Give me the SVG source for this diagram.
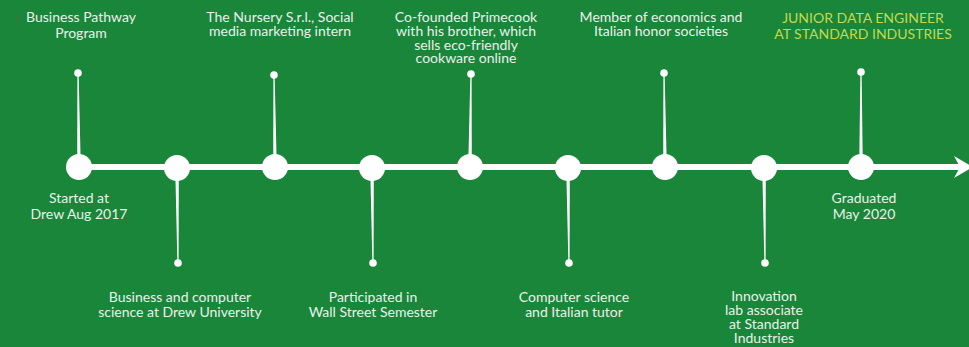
<svg xmlns="http://www.w3.org/2000/svg" width="969" height="347" viewBox="0 0 969 347">
<style>
  .lbl { font-family: "Lato", "Liberation Sans", sans-serif; font-size: 14px; fill: #e9f1ea; text-anchor: middle; }
  .hl { font-family: "Lato", "Liberation Sans", sans-serif; font-size: 14px; fill: #c6d84c; text-anchor: middle; }
  .wh { fill: #ffffff; }
</style>
<rect x="0" y="0" width="969" height="347" fill="#19863a"/>
<g id="connectors">
  <rect class="wh" x="79" y="164" width="884" height="6"/>
  <polygon class="wh" points="954,156 973,167 954,178 960,167"/>
  <polygon class="wh" points="77.2,167 80.8,167 78.6,73 77.4,73"/>
  <polygon class="wh" points="175.2,167 178.8,167 178.6,263 177.4,263"/>
  <polygon class="wh" points="273.2,167 276.8,167 274.6,75 273.4,75"/>
  <polygon class="wh" points="370.2,167 373.8,167 373.6,263 372.4,263"/>
  <polygon class="wh" points="468.2,167 471.8,167 471.6,74 470.4,74"/>
  <polygon class="wh" points="566.2,167 569.8,167 569.6,263 568.4,263"/>
  <polygon class="wh" points="663.2,167 666.8,167 664.6,73 663.4,73"/>
  <polygon class="wh" points="762.2,167 765.8,167 765.6,263 764.4,263"/>
  <polygon class="wh" points="859.2,167 862.8,167 861.6,72 860.4,72"/>
</g>
<g id="n1">
  <circle class="wh" cx="79" cy="167" r="13"/>
  <circle class="wh" cx="78" cy="73" r="3.8"/>
  <text class="lbl" x="81" y="22">Business Pathway</text>
  <text class="lbl" x="81" y="38">Program</text>
  <text class="lbl" x="79" y="203">Started at</text>
  <text class="lbl" x="79" y="219">Drew Aug 2017</text>
</g>
<g id="n2">
  <circle class="wh" cx="177" cy="168" r="13"/>
  <circle class="wh" cx="178" cy="263" r="3.8"/>
  <text class="lbl" x="180" y="302">Business and computer</text>
  <text class="lbl" x="180" y="317">science at Drew University</text>
</g>
<g id="n3">
  <circle class="wh" cx="275" cy="167" r="13"/>
  <circle class="wh" cx="274" cy="75" r="3.8"/>
  <text class="lbl" x="280" y="22">The Nursery S.r.l., Social</text>
  <text class="lbl" x="280" y="36">media marketing intern</text>
</g>
<g id="n4">
  <circle class="wh" cx="372" cy="168" r="13"/>
  <circle class="wh" cx="373" cy="263" r="3.8"/>
  <text class="lbl" x="373" y="302">Participated in</text>
  <text class="lbl" x="373" y="317">Wall Street Semester</text>
</g>
<g id="n5">
  <circle class="wh" cx="470" cy="167" r="13"/>
  <circle class="wh" cx="471" cy="74" r="3.8"/>
  <text class="lbl" x="466" y="22">Co-founded Primecook</text>
  <text class="lbl" x="466" y="36">with his brother, which</text>
  <text class="lbl" x="466" y="50">sells eco-friendly</text>
  <text class="lbl" x="466" y="63">cookware online</text>
</g>
<g id="n6">
  <circle class="wh" cx="568" cy="168" r="13"/>
  <circle class="wh" cx="569" cy="263" r="3.8"/>
  <text class="lbl" x="574" y="302">Computer science</text>
  <text class="lbl" x="574" y="317">and Italian tutor</text>
</g>
<g id="n7">
  <circle class="wh" cx="665" cy="167" r="13"/>
  <circle class="wh" cx="664" cy="73" r="3.8"/>
  <text class="lbl" x="661" y="22">Member of economics and</text>
  <text class="lbl" x="661" y="36">Italian honor societies</text>
</g>
<g id="n8">
  <circle class="wh" cx="764" cy="168" r="13"/>
  <circle class="wh" cx="765" cy="263" r="3.8"/>
  <text class="lbl" x="764" y="301">Innovation</text>
  <text class="lbl" x="764" y="315">lab associate</text>
  <text class="lbl" x="764" y="329">at Standard</text>
  <text class="lbl" x="764" y="343">Industries</text>
</g>
<g id="n9">
  <circle class="wh" cx="861" cy="167" r="13"/>
  <circle class="wh" cx="861" cy="72" r="3.8"/>
  <text class="hl" x="863" y="23">JUNIOR DATA ENGINEER</text>
  <text class="hl" x="863" y="39">AT STANDARD INDUSTRIES</text>
  <text class="lbl" x="864" y="203">Graduated</text>
  <text class="lbl" x="864" y="219">May 2020</text>
</g>
</svg>
